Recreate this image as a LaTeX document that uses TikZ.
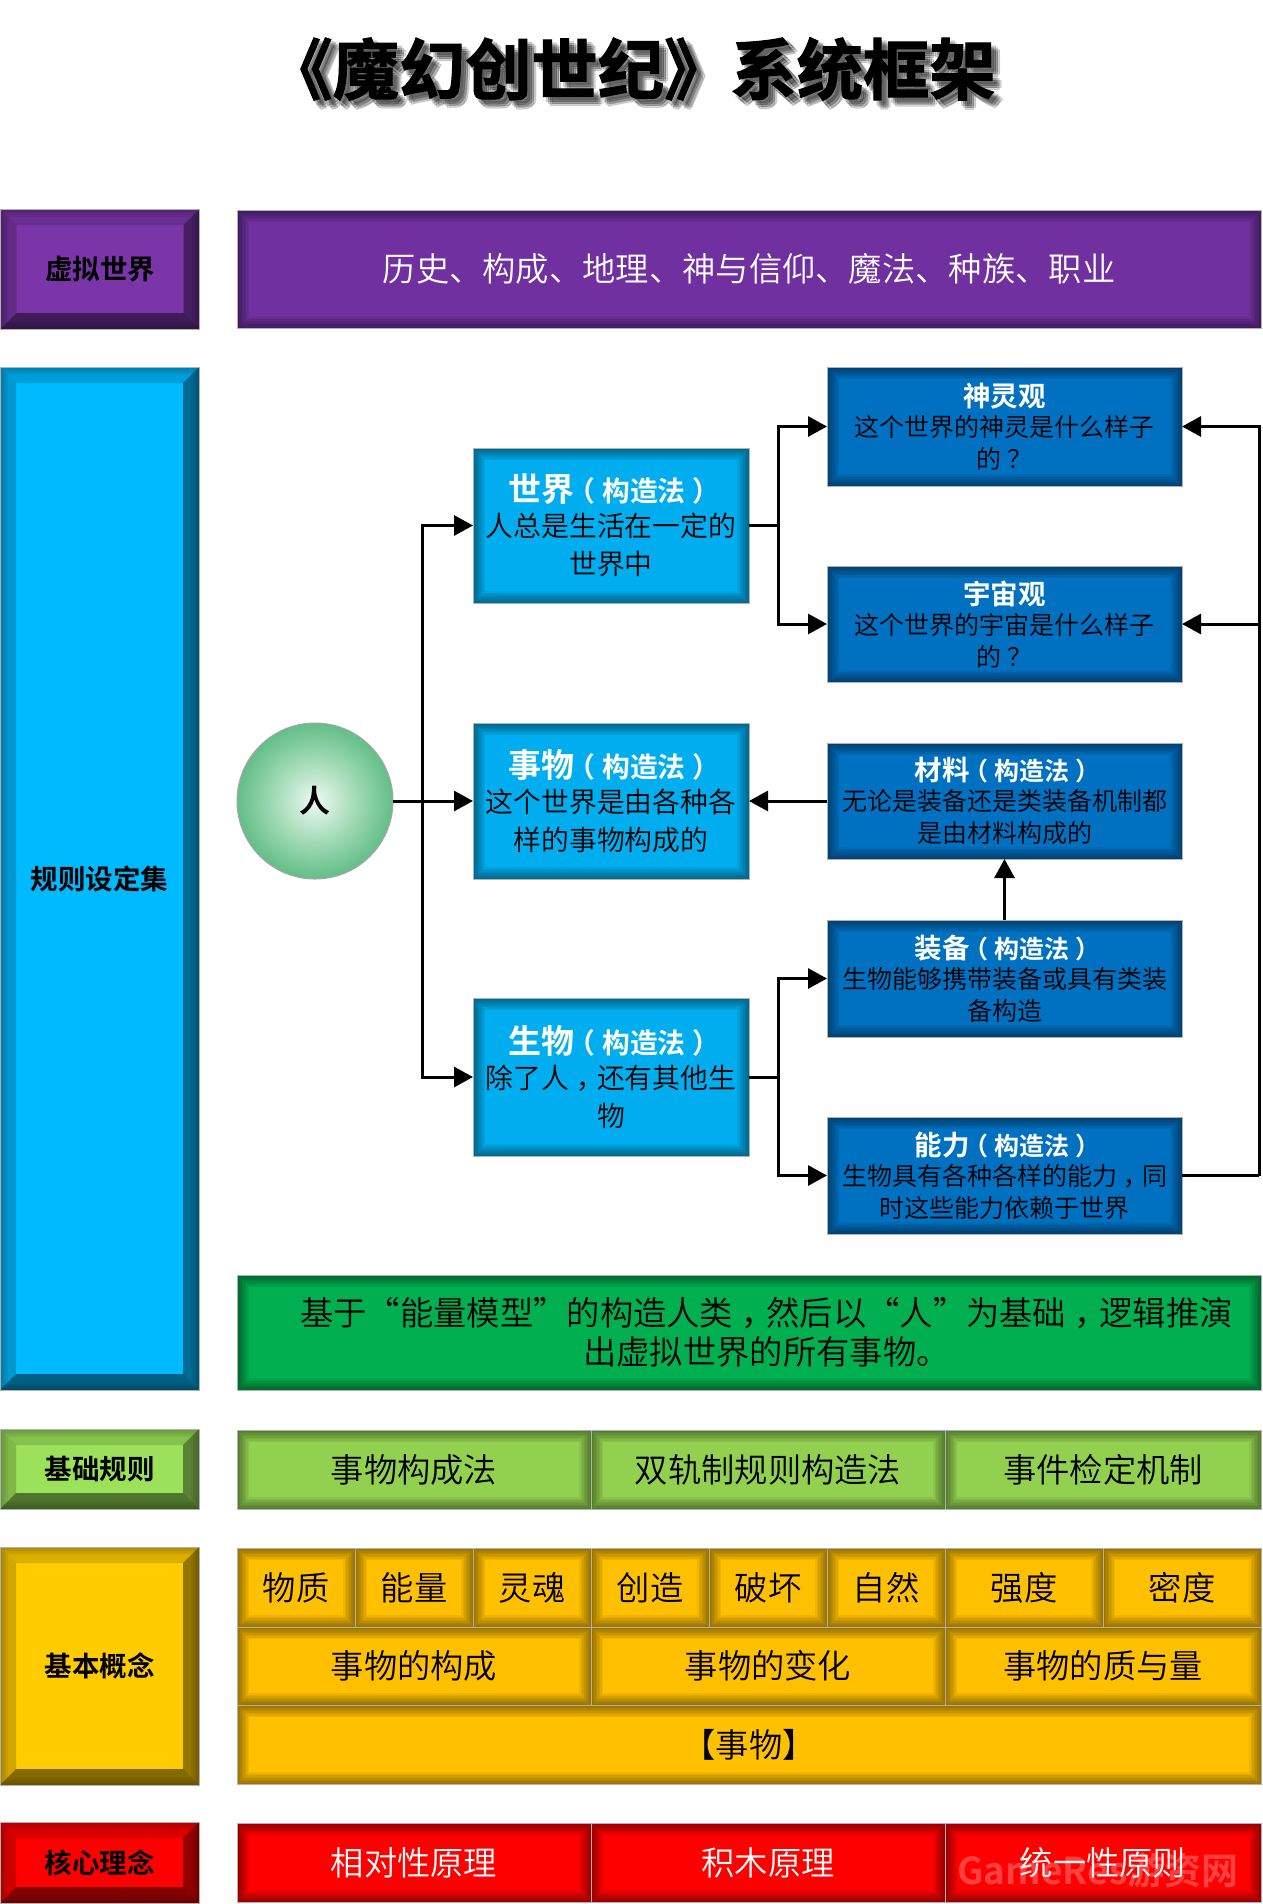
\documentclass[tikz,border=0pt]{standalone}
\usepackage{fontspec}
\setmainfont{Noto Sans CJK SC}[UprightFont=* DemiLight,BoldFont=* Bold]
\newfontfamily\titlefont[FakeBold=1.5]{Noto Sans CJK SC Bold}
\usetikzlibrary{arrows.meta}
\definecolor{purplebox}{HTML}{7030A0}
\definecolor{purpleface}{HTML}{7A36A8}
\definecolor{skyface}{HTML}{00BAFF}
\definecolor{skybox}{HTML}{00AEEF}
\definecolor{navybox}{HTML}{0070C0}
\definecolor{forestbox}{HTML}{00B050}
\definecolor{limebox}{HTML}{92D050}
\definecolor{limeface}{HTML}{9BE15A}
\definecolor{amberbox}{HTML}{FFC000}
\definecolor{amberface}{HTML}{FFCC00}
\definecolor{ballcore}{HTML}{EEF9F2}
\definecolor{ballmid}{HTML}{A8DDBB}
\definecolor{ballouter}{HTML}{68C08B}
\definecolor{ballrim}{HTML}{4FAE78}
\definecolor{balledge}{HTML}{3A8A5A}
\pgfdeclareradialshading{manball}{\pgfpoint{0bp}{0bp}}{color(0bp)=(ballcore);color(12bp)=(ballmid);color(24bp)=(ballouter);color(32bp)=(ballrim);color(35bp)=(balledge);color(50bp)=(balledge)}
\newcommand{\methodtag}{\hspace{-.25em}（\hspace{.25em}构造法\hspace{.25em}）\hspace{-.25em}}
\newcommand{\midcomma}{\hspace{.25em}，\hspace{-.25em}}
\newcommand{\midquery}{\hspace{.25em}？\hspace{-.25em}}
\newcommand{\headtext}[1]{{\bfseries\color{white}\fontsize{33}{38}\selectfont #1\fontsize{27.8}{38}\selectfont\methodtag}\\[-3pt]}
\newcommand{\darkhead}[2]{{\bfseries\color{white}\fontsize{27.5}{32}\selectfont #1\fontsize{25}{32}\selectfont #2}\\[-2pt]}
\tikzset{
	cell/.style={draw=gray!60,line width=1pt,fill=#1,inner sep=0pt,outer sep=0pt,align=center,font=\fontsize{33.3}{39}\selectfont,path picture={
		\foreach \w in {3,6,...,24}
			\draw[black,opacity=.06,line width=\w pt] (path picture bounding box.north west) rectangle (path picture bounding box.south east);
	}},
	bevel/.style={draw=gray!60,line width=1pt,fill=#1,inner sep=0pt,outer sep=0pt,font=\bfseries\fontsize{27.5}{32}\selectfont,path picture={
		\path (path picture bounding box.north west) coordinate (nw) (path picture bounding box.north east) coordinate (ne)
			(path picture bounding box.south west) coordinate (sw) (path picture bounding box.south east) coordinate (se);
		\fill[black,opacity=.14] (nw) -- (ne) -- ([shift={(-16pt,-16pt)}]ne) -- ([shift={(16pt,-16pt)}]nw) -- cycle;
		\fill[black,opacity=.18] (nw) -- (sw) -- ([shift={(16pt,16pt)}]sw) -- ([shift={(16pt,-16pt)}]nw) -- cycle;
		\fill[black,opacity=.42] (ne) -- (se) -- ([shift={(-16pt,16pt)}]se) -- ([shift={(-16pt,-16pt)}]ne) -- cycle;
		\fill[black,opacity=.48] (sw) -- (se) -- ([shift={(-16pt,16pt)}]se) -- ([shift={(16pt,16pt)}]sw) -- cycle;
		\foreach \w in {4,8,...,16}
			\draw[black,opacity=.05,line width=\w pt] (nw) rectangle (se);
	}},
	skycell/.style={cell=skybox,minimum width=276pt,font=\fontsize{27.8}{38}\selectfont},
	navycell/.style={cell=navybox,minimum width=355pt,font=\fontsize{25}{32}\selectfont},
	link/.style={line width=3pt,-{Triangle[length=19pt,width=20pt]}},
	wire/.style={line width=3pt},
	titletext/.style={font=\titlefont\fontsize{66.3}{70}\selectfont,inner sep=0pt}
}
\begin{document}
\begin{tikzpicture}[x=1pt,y=-1pt]
\useasboundingbox (0,0) rectangle (1263,1904);
\foreach \dx/\dy in {3/5,5/3,5/7,7/5,7/9,9/7} {
	\node[titletext,text=black,text opacity=.14] (titleshadow\dx\dy) at (631+\dx,69+\dy) {《魔幻创世纪》系统框架};
}
\node[titletext] (title) at (631,69) {《魔幻创世纪》系统框架};

\node[bevel=purpleface,minimum width=199pt,minimum height=120pt] (virtual) at (100,269) {虚拟世界};
\node[cell=purplebox,minimum width=1024pt,minimum height=118pt,text=white] (history) at (749,269) {历史、构成、地理、神与信仰、魔法、种族、职业};

\node[bevel=skyface,minimum width=199pt,minimum height=1023pt] (rules) at (99.5,878.5) {规则设定集};
\node[circle,draw=gray!70,line width=1pt,shading=manball,minimum size=156pt,inner sep=0pt,outer sep=0pt,font=\bfseries\fontsize{31}{36}\selectfont] (man) at (315,801) {人};

\node[skycell,minimum height=155pt] (world) at (611,525.5) {\headtext{世界}人总是生活在一定的\\世界中};
\node[skycell,minimum height=156pt] (thing) at (611,801) {\headtext{事物}这个世界是由各种各\\样的事物构成的};
\node[skycell,minimum height=158pt] (being) at (611,1077) {\headtext{生物}除了人\midcomma 还有其他生\\物};

\node[navycell,minimum height=119pt] (deity) at (1004.5,426.5) {\darkhead{神灵观}{}这个世界的神灵是什么样子\\的\midquery};
\node[navycell,minimum height=116pt] (cosmos) at (1004.5,624) {\darkhead{宇宙观}{}这个世界的宇宙是什么样子\\的\midquery};
\node[navycell,minimum height=116pt] (material) at (1004.5,801) {\darkhead{材料}{\methodtag}无论是装备还是类装备机制都\\是由材料构成的};
\node[navycell,minimum height=117pt] (equipment) at (1004.5,978.5) {\darkhead{装备}{\methodtag}生物能够携带装备或具有类装\\备构造};
\node[navycell,minimum height=117pt] (ability) at (1004.5,1175.5) {\darkhead{能力}{\methodtag}生物具有各种各样的能力\midcomma 同\\时这些能力依赖于世界};

\coordinate (trunk) at (422,801);
\coordinate (worldfork) at (778,525.5);
\coordinate (beingfork) at (778,1077);
\coordinate (rightbus) at (1259,1175.5);
\draw[link] (man.east) -- (thing.west);
\draw[link] (trunk) |- (world.west);
\draw[link] (trunk) |- (being.west);
\draw[wire] (world.east) -- (worldfork);
\draw[link] (worldfork) |- (deity.west);
\draw[link] (worldfork) |- (cosmos.west);
\draw[link] (material.west) -- (thing.east);
\draw[link] (equipment.north) -- (material.south);
\draw[wire] (being.east) -- (beingfork);
\draw[link] (beingfork) |- (equipment.west);
\draw[link] (beingfork) |- (ability.west);
\draw[wire] (ability.east) -- (rightbus);
\draw[link] (rightbus) |- (deity.east);
\draw[link] (rightbus |- cosmos.east) -- (cosmos.east);

\node[cell=forestbox,minimum width=1024pt,minimum height=115pt] (model) at (749,1332.5) {\hspace*{35pt}基于“能量模型”的构造人类\midcomma 然后以“人”为基础\midcomma 逻辑推演\\\hspace*{35pt}出虚拟世界的所有事物。};

\node[bevel=limeface,minimum width=199pt,minimum height=80pt] (base) at (99.5,1469) {基础规则};
\node[cell=limebox,minimum width=354pt,minimum height=79pt] (composition) at (414,1469.5) {事物构成法};
\node[cell=limebox,minimum width=354pt,minimum height=79pt] (dualtrack) at (768,1469.5) {双轨制规则构造法};
\node[cell=limebox,minimum width=316pt,minimum height=79pt] (eventcheck) at (1103,1469.5) {事件检定机制};

\node[bevel=amberface,minimum width=199pt,minimum height=238pt] (concept) at (99.5,1666) {基本概念};
\node[cell=amberbox,minimum width=118pt,minimum height=79pt] (matter) at (296,1587.5) {物质};
\node[cell=amberbox,minimum width=118pt,minimum height=79pt] (energy) at (414,1587.5) {能量};
\node[cell=amberbox,minimum width=118pt,minimum height=79pt] (soul) at (532,1587.5) {灵魂};
\node[cell=amberbox,minimum width=118pt,minimum height=79pt] (create) at (650,1587.5) {创造};
\node[cell=amberbox,minimum width=118pt,minimum height=79pt] (destroy) at (768,1587.5) {破坏};
\node[cell=amberbox,minimum width=118pt,minimum height=79pt] (nature) at (886,1587.5) {自然};
\node[cell=amberbox,minimum width=158pt,minimum height=79pt] (strength) at (1024,1587.5) {强度};
\node[cell=amberbox,minimum width=158pt,minimum height=79pt] (density) at (1182,1587.5) {密度};
\node[cell=amberbox,minimum width=354pt,minimum height=78pt] (makeup) at (414,1666) {事物的构成};
\node[cell=amberbox,minimum width=354pt,minimum height=78pt] (change) at (768,1666) {事物的变化};
\node[cell=amberbox,minimum width=316pt,minimum height=78pt] (quality) at (1103,1666) {事物的质与量};
\node[cell=amberbox,minimum width=1024pt,minimum height=79pt] (things) at (749,1744.5) {【事物】};

\node[bevel=red,minimum width=199pt,minimum height=81pt] (core) at (99.5,1862.5) {核心理念};
\node[cell=red,minimum width=354pt,minimum height=79pt,text=white] (relative) at (414,1862.5) {相对性原理};
\node[cell=red,minimum width=354pt,minimum height=79pt,text=white] (blocks) at (768,1862.5) {积木原理};
\node[cell=red,minimum width=316pt,minimum height=79pt,text=white] (unity) at (1103,1862.5) {统一性原则};
\node[inner sep=0pt,text=white,text opacity=.25,font=\bfseries\fontsize{37}{42}\selectfont] (gameres) at (1098,1870) {GameRes游资网};
\end{tikzpicture}
\end{document}
